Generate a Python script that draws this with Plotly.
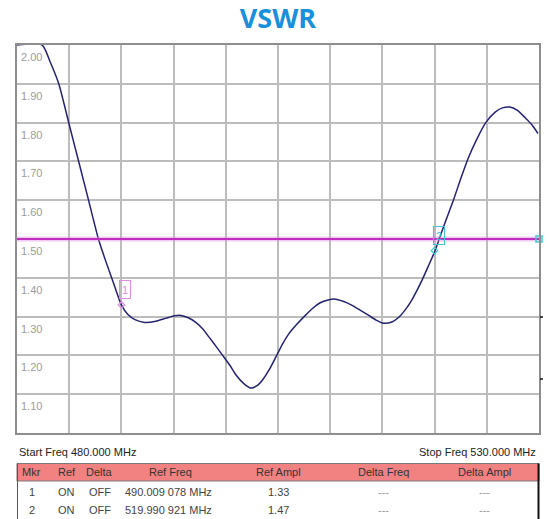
import plotly.graph_objects as go

# ---------------- data ----------------
freq_mhz = [480.0, 482.4, 483.2, 484.0, 485.0, 486.0, 486.9, 487.8, 488.5, 489.2,
            490.0, 490.6, 491.3, 492.2, 493.3, 494.3, 495.1, 495.7, 496.4,
            497.1, 497.8, 498.4, 499.1, 499.7, 500.4, 501.0, 501.7, 502.4, 503.0,
            503.5, 504.2, 504.8, 505.4, 506.05, 506.8, 507.5, 508.3, 509.0, 509.8,
            510.5, 511.3, 512.1, 512.9, 513.7, 514.4, 515.1, 515.9, 516.6, 517.2,
            517.8, 518.3, 518.8, 519.4, 520.0, 520.9, 521.8, 522.5, 523.2, 524.0,
            524.9, 525.8, 526.5, 527.2, 527.9, 528.7, 529.3, 529.9]
vswr_values = [2.00, 2.00, 1.955, 1.90, 1.795, 1.69, 1.595, 1.50, 1.443, 1.39,
               1.33, 1.306, 1.292, 1.285, 1.288, 1.296, 1.302, 1.303, 1.297,
               1.286, 1.268, 1.247, 1.222, 1.20, 1.174, 1.149, 1.128, 1.116, 1.122,
               1.136, 1.165, 1.196, 1.228, 1.256, 1.28, 1.30, 1.321, 1.335, 1.343,
               1.345, 1.339, 1.329, 1.316, 1.303, 1.291, 1.283, 1.286, 1.299, 1.318,
               1.342, 1.367, 1.394, 1.43, 1.467, 1.535, 1.60, 1.655, 1.707, 1.755,
               1.80, 1.827, 1.838, 1.840, 1.832, 1.812, 1.795, 1.772]

ytick_values = [2.00, 1.90, 1.80, 1.70, 1.60, 1.50, 1.40, 1.30, 1.20, 1.10]
ytick_labels = ["2.00", "1.90", "1.80", "1.70", "1.60", "1.50", "1.40", "1.30", "1.20", "1.10"]

start_freq = 480.000
stop_freq = 530.000
limit_value = 1.50

marker_ids = ["1", "2"]
marker_freqs = [490.009078, 519.990921]
marker_ampls = [1.33, 1.47]

table_headers = ["Mkr", "Ref", "Delta", "Ref Freq", "Ref Ampl", "Delta Freq", "Delta Ampl"]
table_ref = ["ON", "ON"]
table_delta = ["OFF", "OFF"]
table_ref_freq = ["490.009 078 MHz", "519.990 921 MHz"]
table_ref_ampl = ["1.33", "1.47"]
table_delta_freq = ["---", "---"]
table_delta_ampl = ["---", "---"]

# ---------------- layout geometry ----------------
W, H = 549, 519
L, R, T, B = 17, 8, 45, 86
PW = W - L - R
PH = H - T - B


def px(x):
    return (x - L) / PW


def py(y):
    return (T + PH - y) / PH


fig = go.Figure()

# VSWR trace
fig.add_trace(go.Scatter(
    x=freq_mhz, y=vswr_values, mode="lines",
    line=dict(color="#23236f", width=1.5, shape="spline", smoothing=0.6),
    hoverinfo="skip", showlegend=False))

# limit line (halo + line)
fig.add_trace(go.Scatter(
    x=[start_freq, stop_freq], y=[limit_value, limit_value], mode="lines",
    line=dict(color="rgba(220,140,220,0.45)", width=5),
    hoverinfo="skip", showlegend=False))
fig.add_trace(go.Scatter(
    x=[start_freq, stop_freq], y=[limit_value, limit_value], mode="lines",
    line=dict(color="#c030c0", width=2),
    hoverinfo="skip", showlegend=False))
fig.add_trace(go.Scatter(
    x=[stop_freq], y=[limit_value], mode="markers",
    marker=dict(symbol="square-open", size=6, color="#40c8d8", line=dict(width=1.5)),
    cliponaxis=False, hoverinfo="skip", showlegend=False))

marker_colors = ["#e08ee0", "#3cc6d6"]
fig.add_trace(go.Scatter(
    x=marker_freqs, y=marker_ampls, mode="markers",
    marker=dict(symbol="diamond-open", size=5, color=marker_colors, line=dict(width=1.2)),
    hoverinfo="skip", showlegend=False))

annotations = []
# y tick labels inside plot, below gridlines
for v, lab in zip(ytick_values, ytick_labels):
    annotations.append(dict(
        x=0, xref="x domain", y=v, yref="y", text=lab, showarrow=False,
        xanchor="left", yanchor="top", xshift=2, yshift=-4,
        font=dict(family="Liberation Sans", size=11, color="#9c9c9c")))

# marker boxes
for mid, f, a, c in zip(marker_ids, marker_freqs, marker_ampls, marker_colors):
    annotations.append(dict(
        x=f, y=a, xref="x", yref="y", text=mid, showarrow=False,
        xanchor="left", yanchor="bottom", xshift=-2, yshift=6,
        width=8, height=15, borderpad=1,
        bordercolor=c, borderwidth=1, bgcolor="rgba(255,255,255,0)",
        font=dict(family="Liberation Sans", size=11, color=c)))

# start / stop frequency
annotations.append(dict(
    x=px(17), y=py(452), xref="paper", yref="paper",
    text=f"Start Freq {start_freq:.3f} MHz", showarrow=False,
    xanchor="left", yanchor="middle",
    font=dict(family="Liberation Sans", size=11, color="#222222")))
annotations.append(dict(
    x=px(540), y=py(452), xref="paper", yref="paper",
    text=f"Stop Freq {stop_freq:.3f} MHz", showarrow=False,
    xanchor="right", yanchor="middle",
    font=dict(family="Liberation Sans", size=11, color="#222222")))

# table
col_x = [32, 67, 100, 171, 280, 385, 486]
header_y = 472
row_y = [492.5, 509.5]
for cx, h in zip(col_x, table_headers):
    annotations.append(dict(
        x=px(cx), y=py(header_y), xref="paper", yref="paper", text=h,
        showarrow=False, xanchor="center", yanchor="middle",
        font=dict(family="Liberation Sans", size=11, color="#333333")))
for i in range(len(marker_ids)):
    row = [marker_ids[i], table_ref[i], table_delta[i], table_ref_freq[i],
           table_ref_ampl[i], table_delta_freq[i], table_delta_ampl[i]]
    for j, (cx, t) in enumerate(zip(col_x, row)):
        color = "#999999" if t == "---" else "#444444"
        xx = cx - 2 if j == 3 else cx
        annotations.append(dict(
            x=px(xx), y=py(row_y[i]), xref="paper", yref="paper", text=t,
            showarrow=False, xanchor="center", yanchor="middle",
            font=dict(family="Liberation Sans", size=11, color=color)))

shapes = [
    # header bar
    dict(type="rect", xref="paper", yref="paper",
         x0=px(17), x1=px(541), y0=py(481), y1=py(463.5),
         fillcolor="#f28282", line=dict(color="#7a7a7a", width=1), layer="below"),
    # table left border
    dict(type="line", xref="paper", yref="paper",
         x0=px(17.5), x1=px(17.5), y0=py(463.5), y1=py(519),
         line=dict(color="#555555", width=1)),
    # table right border
    dict(type="line", xref="paper", yref="paper",
         x0=px(540.5), x1=px(540.5), y0=py(463.5), y1=py(519),
         line=dict(color="#111111", width=2)),
    # small black marks on right edge
    dict(type="line", xref="paper", yref="paper",
         x0=px(542), x1=px(545), y0=py(317), y1=py(317),
         line=dict(color="#111111", width=1.5)),
    dict(type="line", xref="paper", yref="paper",
         x0=px(542), x1=px(545), y0=py(379), y1=py(379),
         line=dict(color="#111111", width=1.5)),
]

fig.update_layout(
    width=W, height=H,
    margin=dict(l=L, r=R, t=T, b=B, pad=0),
    paper_bgcolor="white", plot_bgcolor="white",
    title=dict(text="<b>VSWR</b>", x=0.5, xref="paper", xanchor="center",
               y=1 - 19 / H, yref="container", yanchor="middle",
               font=dict(family="Open Sans", size=27, color="#1a8fdc")),
    xaxis=dict(range=[start_freq, stop_freq], dtick=5, tick0=start_freq,
               showticklabels=False, ticks="",
               showgrid=True, gridcolor="#bcbcbc", gridwidth=1.5,
               showline=True, mirror=True, linecolor="#8e8e8e", linewidth=2,
               zeroline=False, fixedrange=True),
    yaxis=dict(range=[1.0, 2.0], dtick=0.1, tick0=1.0,
               showticklabels=False, ticks="",
               showgrid=True, gridcolor="#bcbcbc", gridwidth=1.5,
               showline=True, mirror=True, linecolor="#8e8e8e", linewidth=2,
               zeroline=False, fixedrange=True),
    annotations=annotations,
    shapes=shapes,
    showlegend=False,
)

fig.write_html(
    "out.html",
    config={"displayModeBar": False},
    post_script="document.body.style.margin='0';document.body.style.padding='0';"
                "document.documentElement.style.overflow='hidden';",
)
